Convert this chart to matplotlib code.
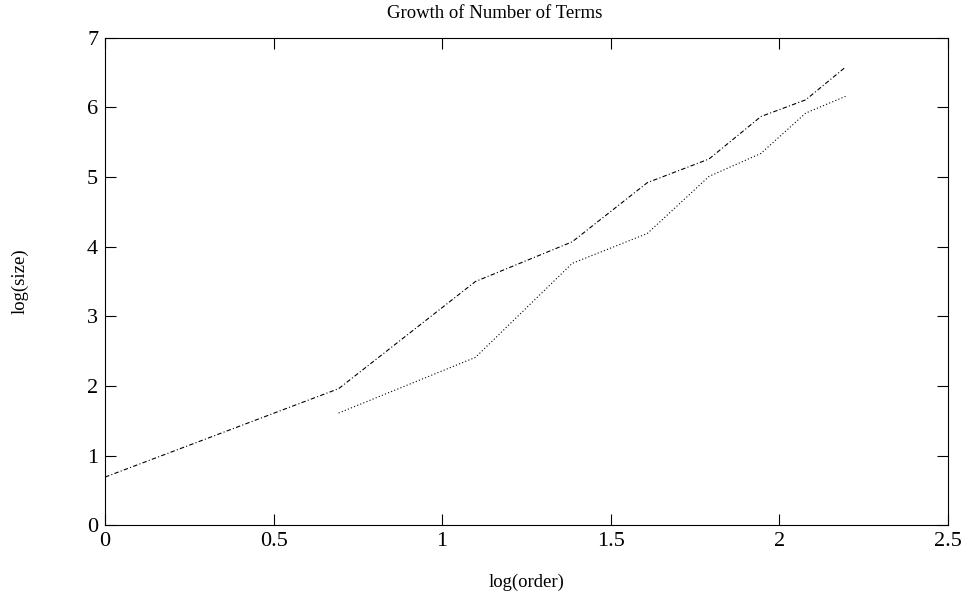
import matplotlib
matplotlib.use("Agg")
import matplotlib.pyplot as plt

# log(order) values
x_full = [0.0, 0.693, 1.099, 1.386, 1.609, 1.792, 1.946, 2.079, 2.197]
x_part = [0.693, 1.099, 1.386, 1.609, 1.792, 1.946, 2.079, 2.197]

# log(size) values
size_dashdot = [0.69, 1.96, 3.50, 4.07, 4.92, 5.26, 5.87, 6.11, 6.58]
size_dotted = [1.61, 2.41, 3.76, 4.19, 5.01, 5.34, 5.92, 6.16]

xticks = [0, 0.5, 1, 1.5, 2, 2.5]
xticklabels = ["0", "0.5", "1", "1.5", "2", "2.5"]
yticks = [0, 1, 2, 3, 4, 5, 6, 7]

plt.rcParams['font.family'] = ['Liberation Serif', 'DejaVu Serif']

fig = plt.figure(figsize=(9.64, 5.92), dpi=100)
ax = fig.add_axes([0.109, 0.113, 0.874, 0.823])

ax.plot(x_full, size_dashdot, color='black', lw=0.8, linestyle=(0, (4, 2, 1, 2)))
ax.plot(x_part, size_dotted, color='black', lw=0.8, linestyle=(0, (1, 2)))

ax.set_xlim(0, 2.5)
ax.set_ylim(0, 7)
ax.set_xticks(xticks)
ax.set_xticklabels(xticklabels)
ax.set_yticks(yticks)
ax.tick_params(direction='in', top=True, right=True, length=8, width=0.8,
               labelsize=16, pad=5)
for s in ax.spines.values():
    s.set_linewidth(0.8)

ax.set_title("Growth of Number of Terms", fontsize=13.5, pad=14, x=0.462)
ax.set_xlabel("log(order)", fontsize=13.5, labelpad=16)
ax.set_ylabel("log(size)", fontsize=13.5, labelpad=42)

fig.savefig("out.png", dpi=100)
